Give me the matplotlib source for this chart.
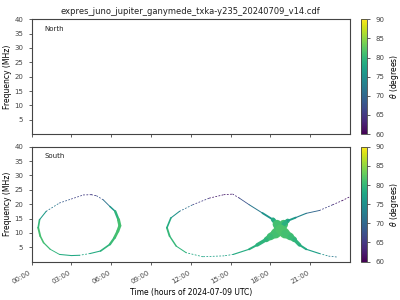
import numpy as np
import matplotlib.pyplot as plt
from matplotlib.collections import LineCollection
from matplotlib.colors import Normalize

title = 'expres_juno_jupiter_ganymede_txka-y235_20240709_v14.cdf'

# south hemisphere emission (time in hours, freq in MHz, theta in deg,
# df = frequency spread of the band in MHz)
# left loop
loop1_t = [3.0, 2.1, 1.4, 0.9, 0.65, 0.5, 0.6, 1.1, 2.1, 3.0, 3.9, 4.5, 4.9, 5.4, 5.9, 6.3, 6.55, 6.65, 6.5, 6.25, 5.9, 5.2, 4.4, 3.6, 3.0]
loop1_f = [2.1, 2.5, 4.3, 6.6, 8.9, 11.8, 14.6, 17.5, 20.4, 21.8, 23.2, 23.3, 22.9, 21.5, 19.2, 17.5, 14.6, 12.5, 10.6, 8.3, 6.0, 3.7, 2.8, 2.2, 2.1]
loop1_theta = [78, 79, 80, 81, 81, 81, 79, 74, 70, 67, 65, 65, 66, 69, 74, 78, 81, 81, 81, 81, 80, 79, 78, 78, 78]
loop1_df = [0.45, 0.28, 0.35, 0.5, 0.6, 0.7, 0.45, 0.28, 0.28, 0.28, 0.28, 0.3, 0.28, 0.28, 0.35, 0.7, 1.0, 1.1, 1.0, 0.9, 0.7, 0.45, 0.3, 0.28, 0.45]

# second loop, from the crossing point round to the crossing point
loop2_t = [18.75, 18.4, 18.0, 17.7, 17.0, 16.4, 15.2, 14.5, 12.9, 11.65, 10.9, 10.4, 10.2, 10.5, 11.15, 12.15, 13.4, 14.5, 15.16, 15.66, 16.4, 17.4, 18.2, 18.5, 18.75]
loop2_f = [11.2, 9.8, 8.7, 7.7, 5.8, 4.3, 2.5, 2.0, 1.7, 3.1, 5.4, 8.9, 11.8, 15.2, 17.5, 19.8, 22.1, 23.3, 23.5, 22.1, 19.8, 16.9, 14.6, 13.0, 11.2]
loop2_theta = [82, 81, 81, 80, 79, 79, 78, 77, 77, 79, 80, 80, 80, 77, 74, 68, 63, 62, 62, 65, 70, 74, 77, 80, 82]
loop2_df = [4.0, 3.0, 2.2, 1.6, 0.9, 0.5, 0.3, 0.28, 0.28, 0.3, 0.4, 0.6, 0.7, 0.45, 0.28, 0.28, 0.28, 0.28, 0.28, 0.28, 0.28, 0.4, 0.9, 2.2, 4.0]

# upper right branch
branch_up_t = [18.75, 19.0, 19.3, 19.9, 20.7, 21.7, 22.7, 23.4, 24.0]
branch_up_f = [11.2, 13.0, 14.2, 15.3, 16.8, 17.8, 19.8, 21.2, 22.6]
branch_up_theta = [82, 80, 78, 75, 72, 68, 64, 62, 61]
branch_up_df = [4.0, 2.2, 0.9, 0.45, 0.35, 0.28, 0.28, 0.28, 0.28]

# lower right branch
branch_lo_t = [18.75, 19.1, 19.5, 19.8, 20.2, 20.7, 21.7, 22.4, 23.0]
branch_lo_f = [11.2, 9.8, 8.7, 7.7, 5.8, 4.3, 2.8, 1.9, 1.6]
branch_lo_theta = [82, 81, 81, 80, 79, 78, 76, 74, 70]
branch_lo_df = [4.0, 3.0, 2.2, 1.6, 0.9, 0.5, 0.3, 0.28, 0.28]

south = [
    (loop1_t, loop1_f, loop1_theta, loop1_df),
    (loop2_t, loop2_f, loop2_theta, loop2_df),
    (branch_up_t, branch_up_f, branch_up_theta, branch_up_df),
    (branch_lo_t, branch_lo_f, branch_lo_theta, branch_lo_df),
]

xticks = [0, 3, 6, 9, 12, 15, 18, 21]
xticklabels = ['%02d:00' % h for h in xticks]
yticks = [5, 10, 15, 20, 25, 30, 35, 40]

cmap = plt.get_cmap('viridis')
norm = Normalize(vmin=60, vmax=90)

plt.rcParams['font.size'] = 5
plt.rcParams['axes.edgecolor'] = '#444444'
plt.rcParams['xtick.color'] = '#444444'
plt.rcParams['ytick.color'] = '#444444'
plt.rcParams['text.color'] = '#222222'

fig = plt.figure(figsize=(4, 3), dpi=100)
ax_n = fig.add_axes([0.079, 0.553, 0.796, 0.383])
ax_s = fig.add_axes([0.079, 0.128, 0.796, 0.383])
cax_n = fig.add_axes([0.9025, 0.553, 0.016, 0.383])
cax_s = fig.add_axes([0.9025, 0.128, 0.016, 0.383])

pt_per_mhz = 0.383 * 3 * 72 / 40  # axes height in points / freq range
px_per_hour = 0.796 * 400 / 24
px_per_mhz = 0.383 * 300 / 40
for t, f, th, df in south:
    pts = np.column_stack([t, f])
    segs = np.stack([pts[:-1], pts[1:]], axis=1)
    th = np.asarray(th, float)
    df = np.asarray(df, float)
    seg_th = (th[:-1] + th[1:]) / 2
    seg_w = (df[:-1] + df[1:]) / 2 * pt_per_mhz
    # thin, nearly flat stretches show up as sparse dots in the sampled data
    slope = np.abs(np.diff(f) * px_per_mhz) / np.maximum(np.abs(np.diff(t) * px_per_hour), 1e-6)
    thin = np.maximum(df[:-1], df[1:]) <= 0.3
    styles = [(0, (1.5, 2.5)) if (th_ and s < 0.65) else 'solid' for th_, s in zip(thin, slope)]
    lc = LineCollection(segs, colors=cmap(norm(seg_th)), linewidths=seg_w,
                        linestyles=styles, capstyle='round')
    ax_s.add_collection(lc)

for ax, label in [(ax_n, 'North'), (ax_s, 'South')]:
    ax.set_xlim(0, 24)
    ax.set_ylim(0, 40)
    ax.set_xticks(xticks)
    ax.set_yticks(yticks)
    ax.set_ylabel('Frequency (MHz)', fontsize=5.5, labelpad=1.5)
    ax.text(0.04, 0.9, label, transform=ax.transAxes, fontsize=5)
    ax.tick_params(labelsize=5, length=2.5, width=0.6)
    for s in ax.spines.values():
        s.set_linewidth(0.8)

ax_n.set_xticklabels([])
ax_s.set_xticklabels(xticklabels, rotation=30, ha='right')
ax_s.set_xlabel('Time (hours of 2024-07-09 UTC)', fontsize=5.5, labelpad=2)
ax_n.set_title(title, fontsize=6.0, pad=4)

for cax in (cax_n, cax_s):
    cb = fig.colorbar(plt.cm.ScalarMappable(norm=norm, cmap=cmap), cax=cax)
    cb.set_ticks([60, 65, 70, 75, 80, 85, 90])
    cb.set_label(r'$\theta$ (degrees)', fontsize=5.5, labelpad=2)
    cb.ax.tick_params(labelsize=5, length=2.5, width=0.6)
    cb.outline.set_linewidth(0.6)

fig.savefig('out.png', dpi=100)
